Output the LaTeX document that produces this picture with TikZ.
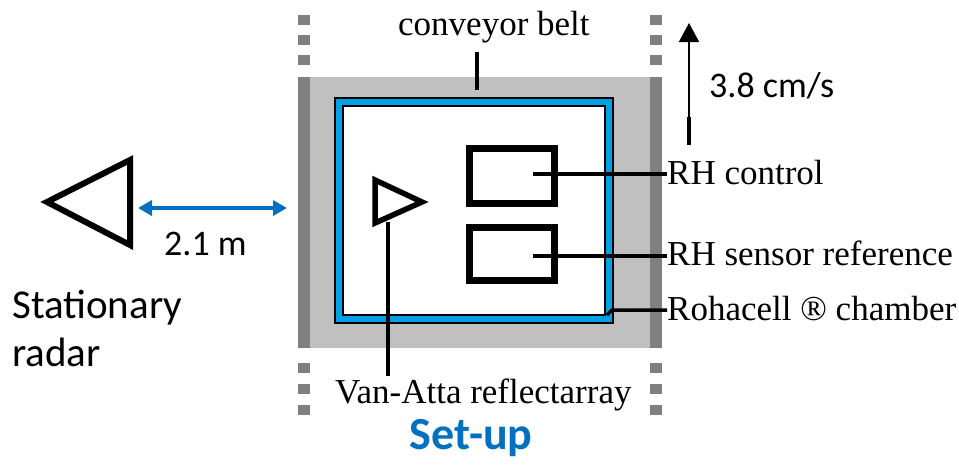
\documentclass[tikz,border=0pt]{standalone}
\usepackage{fontspec}
\setmainfont{Liberation Serif}
\newfontfamily\calib{Carlito}
\usetikzlibrary{arrows.meta}
\definecolor{lgray}{HTML}{C0C0C0}
\definecolor{dgray}{HTML}{808080}
\definecolor{chblue}{HTML}{00A0E6}
\definecolor{arblue}{HTML}{0070C0}
\begin{document}
\begin{tikzpicture}[x=1pt,y=-1pt,
  serif/.style={inner sep=0pt,anchor=base west,font=\fontsize{35}{40}\selectfont},
  sans/.style={inner sep=0pt,anchor=base west,font=\calib\fontsize{36}{43}\selectfont},
  leader/.style={line width=3.5pt},
  sensorbox/.style={draw,line width=7pt,minimum width=85pt,inner sep=0pt}]
\useasboundingbox (0,0) rectangle (959,464);
% conveyor belt
\fill[lgray] (298,77) rectangle (662,348);
\fill[dgray] (298,77) rectangle (310,348);
\fill[dgray] (650,77) rectangle (662,348);
\foreach \y in {15,35,55,363,384,405} {
  \fill[dgray] (298,\y) rectangle (310,\y+10);
  \fill[dgray] (650,\y) rectangle (662,\y+10);
}
% chamber
\fill[chblue] (335,98) rectangle (613,323);
\fill[white] (343,106) rectangle (605,315);
\draw[line width=1.3pt] (335,98) rectangle (613,323);
\draw[line width=1.3pt] (343,106) rectangle (605,315);
% sensor boxes
\node[sensorbox,minimum height=55pt] (ctrl) at (511.5,175.5) {};
\node[sensorbox,minimum height=53pt] (sref) at (511.5,253.5) {};
% van-atta triangle
\coordinate (va1) at (375,180);
\coordinate (va2) at (422,202);
\coordinate (va3) at (375,223);
\draw[line width=5.5pt,line join=miter] (va1) -- (va2) -- (va3) -- cycle;
% radar triangle
\coordinate (ra1) at (130,160);
\coordinate (ra2) at (47,202);
\coordinate (ra3) at (130,245);
\draw[line width=6pt,line join=miter] (ra1) -- (ra2) -- (ra3) -- cycle;
% distance arrow
\coordinate (da1) at (138,208);
\coordinate (da2) at (287,208);
\draw[arblue,line width=4pt,{Triangle[length=14pt,width=15pt]}-{Triangle[length=14pt,width=15pt]}] (da1) -- (da2);
% labels
\node[serif] (belt) at (398,35) {conveyor belt};
\node[serif] (lctrl) at (667,184) {RH control};
\node[serif] (lsref) at (667,265) {RH sensor reference};
\node[serif] (lroh) at (667,320) {Rohacell ® chamber};
\node[serif] (lva) at (335,403) {Van-Atta reflectarray};
\node[sans] (dist) at (164,255) {2.1 m};
\node[sans] (speed) at (709,97) {3.8 cm/s};
\node[inner sep=0pt,anchor=base west,font=\calib\fontsize{41}{49}\selectfont] (stat) at (12,318) {Stationary};
\node[inner sep=0pt,anchor=base west,font=\calib\fontsize{41}{49}\selectfont] (radar) at (12,366) {radar};
\node[inner sep=0pt,anchor=base,font=\calib\bfseries\fontsize{46}{52}\selectfont,text=arblue] (setup) at (471,449) {Set-up};
% leaders
\coordinate (bl1) at (477,52);
\coordinate (bl2) at (477,90);
\draw[leader] (bl1) -- (bl2);
\coordinate (c1) at (533,174);
\draw[leader] (c1) -- (c1 -| lctrl.west);
\coordinate (c2) at (533,256);
\draw[leader] (c2) -- (c2 -| lsref.west);
\coordinate (r0) at (607,315);
\coordinate (r1) at (612,310);
\draw[leader] (r0) -- (r1) -- (r1 -| lroh.west);
\coordinate (v1) at (388,222);
\coordinate (v2) at (388,376);
\draw[leader] (v1) -- (v2);
% speed arrow
\coordinate (s0) at (689,145);
\coordinate (s1) at (689,117);
\coordinate (s2) at (689,23);
\draw[line width=4pt] (s0) -- (s1);
\draw[line width=2pt,-{Triangle[length=19pt,width=20pt]}] (s1) -- (s2);
\end{tikzpicture}
\end{document}
